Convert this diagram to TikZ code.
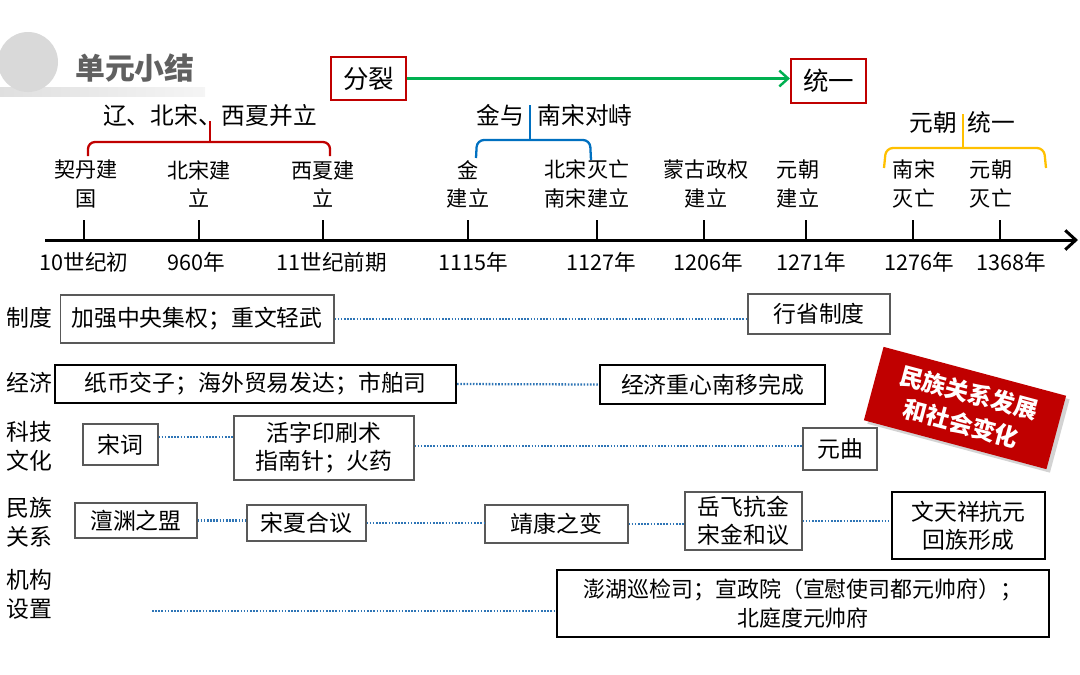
\documentclass[tikz,border=0pt]{standalone}
\usepackage{fontspec}
\setmainfont{Noto Sans CJK SC}
\usetikzlibrary{arrows.meta, shadows}

\definecolor{hred}{RGB}{192,0,0}
\definecolor{hgreen}{RGB}{0,176,80}
\definecolor{hblue}{RGB}{0,112,192}
\definecolor{hyellow}{RGB}{255,192,0}
\definecolor{hdot}{RGB}{46,117,182}

\begin{document}
\begin{tikzpicture}[x=0.02cm, y=-0.02cm,
	box/.style={draw=gray!70!black, line width=0.6pt, align=center, inner sep=0pt,
		font=\fontsize{13}{16}\selectfont},
	bbox/.style={box, draw=black, line width=1.3pt},
	rbox/.style={draw=hred, line width=1.2pt, inner sep=0pt, font=\fontsize{14.5}{17}\selectfont},
	rowlab/.style={align=center, inner sep=0pt, font=\fontsize{13}{16}\selectfont},
	evt/.style={align=center, inner sep=0pt, font=\fontsize{12}{16}\selectfont},
	yr/.style={inner sep=0pt, font=\fontsize{12.3}{14}\selectfont},
	brtxt/.style={inner sep=0pt, font=\fontsize{13.5}{16}\selectfont},
	dots/.style={hdot, line width=1.3pt, dash pattern=on 0.9pt off 0.9pt},
	brace/.style={line width=1.3pt, rounded corners=4pt}]
	\useasboundingbox (0,0) rectangle (1080,674);
	
	% title
	\shade[left color=gray!25, right color=gray!8] (0,87) rectangle (205,96);
	\fill[gray!30] (28,62) circle (30);
	\node[inner sep=0pt, text=gray!75!black, font=\fontsize{17}{20}\selectfont\bfseries] (title) at (135,68) {单元小结};
	
	% fen lie -> tong yi
	\node[rbox, minimum width=1.5cm, minimum height=0.86cm] (FL) at (368.5,78.5) {分裂};
	\node[rbox, minimum width=1.5cm, minimum height=0.88cm] (TY) at (828.5,81) {统一};
	\draw[hgreen, line width=1.4pt, -{Straight Barb[length=5pt, width=9pt]}] (FL.east) -- (FL.east -| TY.west);
	
	% braces
	\node[brtxt] (B1) at (210,115) {辽、北宋、西夏并立};
	\draw[brace, hred] (88,156) -- (88,142) -- (330,142) -- (330,156);
	\draw[hred, line width=1.3pt] (210,142) -- (210,121);
	
	\node[brtxt] (B2a) at (500,115) {金与};
	\node[brtxt] (B2b) at (585,115) {南宋对峙};
	\draw[brace, hblue] (476,158) -- (477,140) -- (590,140) -- (591,160);
	\draw[hblue, line width=1.3pt] (530,140) -- (530,105);
	
	\node[brtxt] (B3a) at (933,122) {元朝};
	\node[brtxt] (B3b) at (991,122) {统一};
	\draw[brace, hyellow] (884,168) -- (886,148) -- (1044,148) -- (1046,168);
	\draw[hyellow, line width=1.3pt] (963,148) -- (963,114);
	
	% time axis
	\coordinate (A0) at (45,240);
	\coordinate (A1) at (1078,240);
	\draw[line width=1.7pt, -{Straight Barb[length=6pt, width=11pt]}] (A0) -- (A1);
	\foreach \x/\lx/\yx/\ev/\yt [count=\i] in {
		84/86/84/{契丹建\\国}/10世纪初,
		199/199/196/{北宋建\\立}/960年,
		323/323/332/{西夏建\\立}/11世纪前期,
		468/468/473/{金\\建立}/1115年,
		597/587/601/{北宋灭亡\\南宋建立}/1127年,
		704/706/708/{蒙古政权\\建立}/1206年,
		806/798/811/{元朝\\建立}/1271年,
		913/914/919/{南宋\\灭亡}/1276年,
		1000/991/1011/{元朝\\灭亡}/1368年}
	{
		\draw[line width=1.7pt] (\x,220) -- (\x,240);
		\node[evt] (E\i) at (\lx,184) {\ev};
		\node[yr] (Y\i) at (\yx,262) {\yt};
	}
	
	% row labels
	\node[rowlab] (L1) at (29,318) {制度};
	\node[rowlab] (L2) at (29,383) {经济};
	\node[rowlab, font=\fontsize{13}{16.5}\selectfont] (L3) at (29,446) {科技\\文化};
	\node[rowlab, font=\fontsize{13}{16.5}\selectfont] (L4) at (29,522) {民族\\关系};
	\node[rowlab, font=\fontsize{13}{16.5}\selectfont] (L5) at (29,594) {机构\\设置};
	
	% zhidu
	\node[box, minimum width=5.48cm, minimum height=0.96cm] (Z1) at (197,319) {加强中央集权；重文轻武};
	\node[box, minimum width=2.84cm, minimum height=0.8cm] (Z2) at (819,314) {行省制度};
	\draw[dots] (Z1.east) -- (Z1.east -| Z2.west);
	
	% jingji
	\node[bbox, minimum width=8.02cm, minimum height=0.76cm] (J1) at (255.5,384) {纸币交子；海外贸易发达；市舶司};
	\node[bbox, minimum width=4.5cm, minimum height=0.78cm] (J2) at (712.5,384.5) {经济重心南移完成};
	\draw[dots] (J1.east) -- (J2.west);
	
	% keji wenhua
	\node[box, minimum width=1.5cm, minimum height=0.82cm] (K1) at (120.5,444.5) {宋词};
	\node[box, minimum width=3.6cm, minimum height=1.28cm] (K2) at (324,448) {活字印刷术\\指南针；火药};
	\node[box, minimum width=1.48cm, minimum height=0.84cm] (K3) at (840,449) {元曲};
	\draw[dots] (K1.east |- 0,437) -- (K2.west |- 0,437);
	\draw[dots] (K2.east |- 0,446) -- (K3.west |- 0,446);
	
	% minzu guanxi
	\node[box, minimum width=2.44cm, minimum height=0.7cm] (M1) at (136,520.5) {澶渊之盟};
	\node[box, minimum width=2.38cm, minimum height=0.72cm] (M2) at (306.5,523) {宋夏合议};
	\node[box, minimum width=2.86cm, minimum height=0.76cm] (M3) at (556.5,524) {靖康之变};
	\node[box, minimum width=2.34cm, minimum height=1.16cm] (M4) at (743.5,521) {岳飞抗金\\宋金和议};
	\node[bbox, minimum width=3.06cm, minimum height=1.34cm] (M5) at (968.5,525.5) {文天祥抗元\\回族形成};
	\draw[dots] (M1.east) -- (M1.east -| M2.west);
	\draw[dots] (M2.east) -- (M2.east -| M3.west);
	\draw[dots] (M3.east) -- (M3.east -| M4.west);
	\draw[dots] (M4.east) -- (M4.east -| M5.west);
	
	% jigou shezhi
	\node[bbox, minimum width=9.84cm, minimum height=1.34cm, font=\fontsize{12.5}{17}\selectfont] (G1) at (803,603.5) {澎湖巡检司；宣政院（宣慰使司都元帅府）；\\北庭度元帅府};
	\coordinate (G0) at (152,611);
	\draw[dots] (G0) -- (G0 -| G1.west);
	
	% stamp
	\node[rotate=-15, fill=hred, drop shadow={opacity=0.35, shadow xshift=2pt, shadow yshift=-2pt},
		minimum width=3.78cm, minimum height=1.52cm, inner sep=0pt, align=center, text=white,
		font=\fontsize{13.5}{18}\selectfont\bfseries] (S) at (965,408) {民族关系发展\\和社会变化};
\end{tikzpicture}
\end{document}
